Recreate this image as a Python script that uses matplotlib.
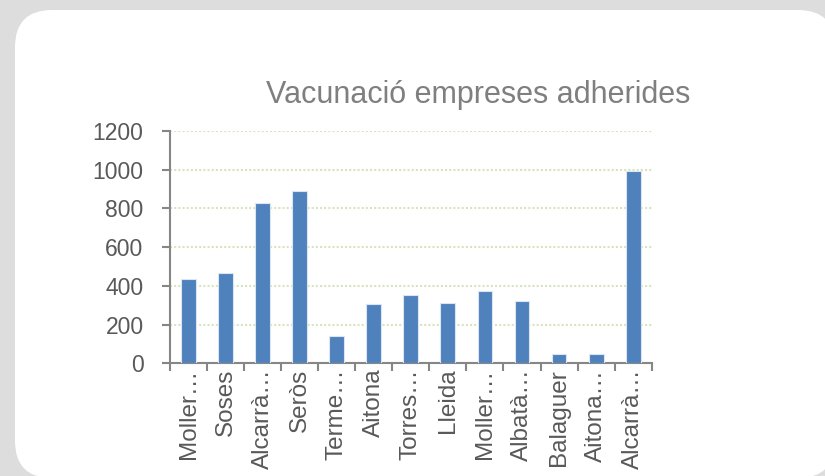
import matplotlib
matplotlib.use("Agg")
import matplotlib.pyplot as plt
from matplotlib.patches import FancyBboxPatch
import numpy as np

categories = ["Moller…", "Soses", "Alcarrà…", "Seròs", "Terme…", "Aitona", "Torres…",
              "Lleida", "Moller…", "Albatà…", "Balaguer", "Aitona…", "Alcarrà…"]
values = [435, 465, 828, 888, 140, 305, 352, 310, 374, 324, 50, 50, 995]
yticks = [0, 200, 400, 600, 800, 1000, 1200]
title = "Vacunació empreses adherides"

plt.rcParams['font.family'] = ['Liberation Sans', 'DejaVu Sans']

W, H = 825, 476
fig = plt.figure(figsize=(W / 100, H / 100), dpi=100)
fig.patch.set_facecolor('#dddddd')

# white rounded panel
panel = FancyBboxPatch((15 / W, 1 - 478 / H), (835 - 15) / W, (478 - 10) / H,
                       boxstyle="round,pad=0,rounding_size=0.045",
                       transform=fig.transFigure, facecolor='white',
                       edgecolor='none', zorder=-5, mutation_aspect=W / H)
fig.patches.append(panel)

left, right = 170 / W, 651.7 / W
bottom, top = 1 - 363.3 / H, 1 - 131 / H
ax = fig.add_axes([left, bottom, right - left, top - bottom])
ax.set_zorder(2)
ax.set_facecolor('none')

x = np.arange(len(categories))
ax.bar(x, values, width=0.4, color='#4f81bd', edgecolor='#dce6f2', linewidth=0.8, zorder=3)

ax.set_xlim(-0.5, len(categories) - 0.5)
ax.set_ylim(0, 1200)
ax.set_yticks(yticks)
ax.set_yticklabels([str(v) for v in yticks], fontsize=16.5, color='#595959')
ax.yaxis.grid(True, linestyle=(0, (1, 1)), color='#d7e4bd', linewidth=1.5, zorder=0)
ax.xaxis.grid(False)

# category ticks at boundaries
ax.set_xticks(np.arange(len(categories) + 1) - 0.5, minor=False)
ax.set_xticklabels([])
ax.set_xticks(x, minor=True)
ax.set_xticklabels(categories, minor=True, rotation=90, fontsize=17.5, color='#595959',
                   va='top', ha='center')
ax.tick_params(axis='x', which='major', direction='out', length=6, width=1.5, color='#868686')
ax.tick_params(axis='x', which='minor', length=0, pad=4)
ax.tick_params(axis='y', direction='out', length=6, width=1.5, color='#868686', pad=13)

for s in ['top', 'right']:
    ax.spines[s].set_visible(False)
for s in ['left', 'bottom']:
    ax.spines[s].set_color('#868686')
    ax.spines[s].set_linewidth(1.5)

fig.text(478 / W, 1 - 95 / H, title, ha='center', va='center', fontsize=22, color='#7f7f7f')

fig.savefig('out.png', dpi=100, facecolor=fig.get_facecolor())
